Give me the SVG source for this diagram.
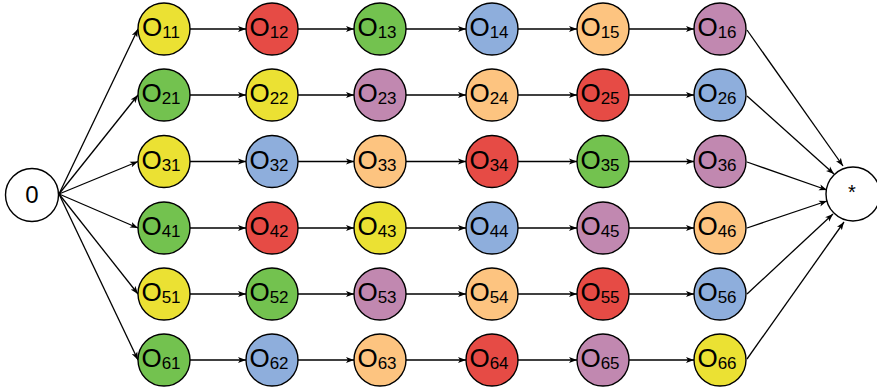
<svg xmlns="http://www.w3.org/2000/svg" width="877" height="388" viewBox="0 0 877 388">
<style>
.n{stroke:#000;stroke-width:1.4}
.Y{fill:#ebe133}.R{fill:#e64b45}.G{fill:#73c24f}.B{fill:#8eaedc}.O{fill:#fdc480}.P{fill:#c188b0}.W{fill:#fff}
.t{font-family:"Liberation Sans",Arial,sans-serif;font-size:26px;text-anchor:middle;fill:#000}
.s{font-size:17px}
.e{stroke:#000;stroke-width:1.3;fill:none;marker-end:url(#a)}
</style>
<defs>
<marker id="a" markerUnits="userSpaceOnUse" markerWidth="8" markerHeight="7" viewBox="0 0 8 6" refX="8" refY="3" orient="auto">
<path d="M0,0 L8,3 L0,6 L2,3 Z" fill="#000"/>
</marker>
</defs>
<g id="connectors">
<path class="e" d="M59,194 L138,29"/>
<path class="e" d="M59,194 L138,95"/>
<path class="e" d="M59,194 L138,161.5"/>
<path class="e" d="M59,194 L138,228"/>
<path class="e" d="M59,194 L138,294"/>
<path class="e" d="M59,194 L138,360"/>
<path class="e" d="M190,29 L246,29"/><path class="e" d="M298,29 L354,29"/><path class="e" d="M406,29 L466,29"/><path class="e" d="M518,29 L577,29"/><path class="e" d="M629,29 L694,29"/>
<path class="e" d="M190,95 L246,95"/><path class="e" d="M298,95 L354,95"/><path class="e" d="M406,95 L466,95"/><path class="e" d="M518,95 L577,95"/><path class="e" d="M629,95 L694,95"/>
<path class="e" d="M190,161.5 L246,161.5"/><path class="e" d="M298,161.5 L354,161.5"/><path class="e" d="M406,161.5 L466,161.5"/><path class="e" d="M518,161.5 L577,161.5"/><path class="e" d="M629,161.5 L694,161.5"/>
<path class="e" d="M190,228 L246,228"/><path class="e" d="M298,228 L354,228"/><path class="e" d="M406,228 L466,228"/><path class="e" d="M518,228 L577,228"/><path class="e" d="M629,228 L694,228"/>
<path class="e" d="M190,294 L246,294"/><path class="e" d="M298,294 L354,294"/><path class="e" d="M406,294 L466,294"/><path class="e" d="M518,294 L577,294"/><path class="e" d="M629,294 L694,294"/>
<path class="e" d="M190,360 L246,360"/><path class="e" d="M298,360 L354,360"/><path class="e" d="M406,360 L466,360"/><path class="e" d="M518,360 L577,360"/><path class="e" d="M629,360 L694,360"/>
<path class="e" d="M747,30 L843,166"/>
<path class="e" d="M747,96 L834,174"/>
<path class="e" d="M747,162 L827,190"/>
<path class="e" d="M747,228 L827,201"/>
<path class="e" d="M747,294 L833,214"/>
<path class="e" d="M747,359 L844,222"/>
</g>
<g id="n0"><circle class="n W" cx="32" cy="195" r="26.5"/><text class="t" x="32" y="203" style="font-size:24px">0</text></g>
<g id="nstar"><circle class="n W" cx="853" cy="194" r="27"/><text class="t" x="852" y="199" style="font-size:20px">*</text></g>
<g id="o11"><circle class="n Y" cx="164" cy="29" r="26"/><text class="t" x="161" y="36">O<tspan class="s" dy="2">11</tspan></text></g>
<g id="o12"><circle class="n R" cx="272" cy="29" r="26"/><text class="t" x="269" y="36">O<tspan class="s" dy="2">12</tspan></text></g>
<g id="o13"><circle class="n G" cx="380" cy="29" r="26"/><text class="t" x="377" y="36">O<tspan class="s" dy="2">13</tspan></text></g>
<g id="o14"><circle class="n B" cx="492" cy="29" r="26"/><text class="t" x="489" y="36">O<tspan class="s" dy="2">14</tspan></text></g>
<g id="o15"><circle class="n O" cx="603" cy="29" r="26"/><text class="t" x="600" y="36">O<tspan class="s" dy="2">15</tspan></text></g>
<g id="o16"><circle class="n P" cx="720" cy="29" r="26"/><text class="t" x="717" y="36">O<tspan class="s" dy="2">16</tspan></text></g>
<g id="o21"><circle class="n G" cx="164" cy="95" r="26"/><text class="t" x="161" y="102">O<tspan class="s" dy="2">21</tspan></text></g>
<g id="o22"><circle class="n Y" cx="272" cy="95" r="26"/><text class="t" x="269" y="102">O<tspan class="s" dy="2">22</tspan></text></g>
<g id="o23"><circle class="n P" cx="380" cy="95" r="26"/><text class="t" x="377" y="102">O<tspan class="s" dy="2">23</tspan></text></g>
<g id="o24"><circle class="n O" cx="492" cy="95" r="26"/><text class="t" x="489" y="102">O<tspan class="s" dy="2">24</tspan></text></g>
<g id="o25"><circle class="n R" cx="603" cy="95" r="26"/><text class="t" x="600" y="102">O<tspan class="s" dy="2">25</tspan></text></g>
<g id="o26"><circle class="n B" cx="720" cy="95" r="26"/><text class="t" x="717" y="102">O<tspan class="s" dy="2">26</tspan></text></g>
<g id="o31"><circle class="n Y" cx="164" cy="161.5" r="26"/><text class="t" x="161" y="168.5">O<tspan class="s" dy="2">31</tspan></text></g>
<g id="o32"><circle class="n B" cx="272" cy="161.5" r="26"/><text class="t" x="269" y="168.5">O<tspan class="s" dy="2">32</tspan></text></g>
<g id="o33"><circle class="n O" cx="380" cy="161.5" r="26"/><text class="t" x="377" y="168.5">O<tspan class="s" dy="2">33</tspan></text></g>
<g id="o34"><circle class="n R" cx="492" cy="161.5" r="26"/><text class="t" x="489" y="168.5">O<tspan class="s" dy="2">34</tspan></text></g>
<g id="o35"><circle class="n G" cx="603" cy="161.5" r="26"/><text class="t" x="600" y="168.5">O<tspan class="s" dy="2">35</tspan></text></g>
<g id="o36"><circle class="n P" cx="720" cy="161.5" r="26"/><text class="t" x="717" y="168.5">O<tspan class="s" dy="2">36</tspan></text></g>
<g id="o41"><circle class="n G" cx="164" cy="228" r="26"/><text class="t" x="161" y="235">O<tspan class="s" dy="2">41</tspan></text></g>
<g id="o42"><circle class="n R" cx="272" cy="228" r="26"/><text class="t" x="269" y="235">O<tspan class="s" dy="2">42</tspan></text></g>
<g id="o43"><circle class="n Y" cx="380" cy="228" r="26"/><text class="t" x="377" y="235">O<tspan class="s" dy="2">43</tspan></text></g>
<g id="o44"><circle class="n B" cx="492" cy="228" r="26"/><text class="t" x="489" y="235">O<tspan class="s" dy="2">44</tspan></text></g>
<g id="o45"><circle class="n P" cx="603" cy="228" r="26"/><text class="t" x="600" y="235">O<tspan class="s" dy="2">45</tspan></text></g>
<g id="o46"><circle class="n O" cx="720" cy="228" r="26"/><text class="t" x="717" y="235">O<tspan class="s" dy="2">46</tspan></text></g>
<g id="o51"><circle class="n Y" cx="164" cy="294" r="26"/><text class="t" x="161" y="301">O<tspan class="s" dy="2">51</tspan></text></g>
<g id="o52"><circle class="n G" cx="272" cy="294" r="26"/><text class="t" x="269" y="301">O<tspan class="s" dy="2">52</tspan></text></g>
<g id="o53"><circle class="n P" cx="380" cy="294" r="26"/><text class="t" x="377" y="301">O<tspan class="s" dy="2">53</tspan></text></g>
<g id="o54"><circle class="n O" cx="492" cy="294" r="26"/><text class="t" x="489" y="301">O<tspan class="s" dy="2">54</tspan></text></g>
<g id="o55"><circle class="n R" cx="603" cy="294" r="26"/><text class="t" x="600" y="301">O<tspan class="s" dy="2">55</tspan></text></g>
<g id="o56"><circle class="n B" cx="720" cy="294" r="26"/><text class="t" x="717" y="301">O<tspan class="s" dy="2">56</tspan></text></g>
<g id="o61"><circle class="n G" cx="164" cy="360" r="26"/><text class="t" x="161" y="367">O<tspan class="s" dy="2">61</tspan></text></g>
<g id="o62"><circle class="n B" cx="272" cy="360" r="26"/><text class="t" x="269" y="367">O<tspan class="s" dy="2">62</tspan></text></g>
<g id="o63"><circle class="n O" cx="380" cy="360" r="26"/><text class="t" x="377" y="367">O<tspan class="s" dy="2">63</tspan></text></g>
<g id="o64"><circle class="n R" cx="492" cy="360" r="26"/><text class="t" x="489" y="367">O<tspan class="s" dy="2">64</tspan></text></g>
<g id="o65"><circle class="n P" cx="603" cy="360" r="26"/><text class="t" x="600" y="367">O<tspan class="s" dy="2">65</tspan></text></g>
<g id="o66"><circle class="n Y" cx="720" cy="360" r="26"/><text class="t" x="717" y="367">O<tspan class="s" dy="2">66</tspan></text></g>
</svg>
